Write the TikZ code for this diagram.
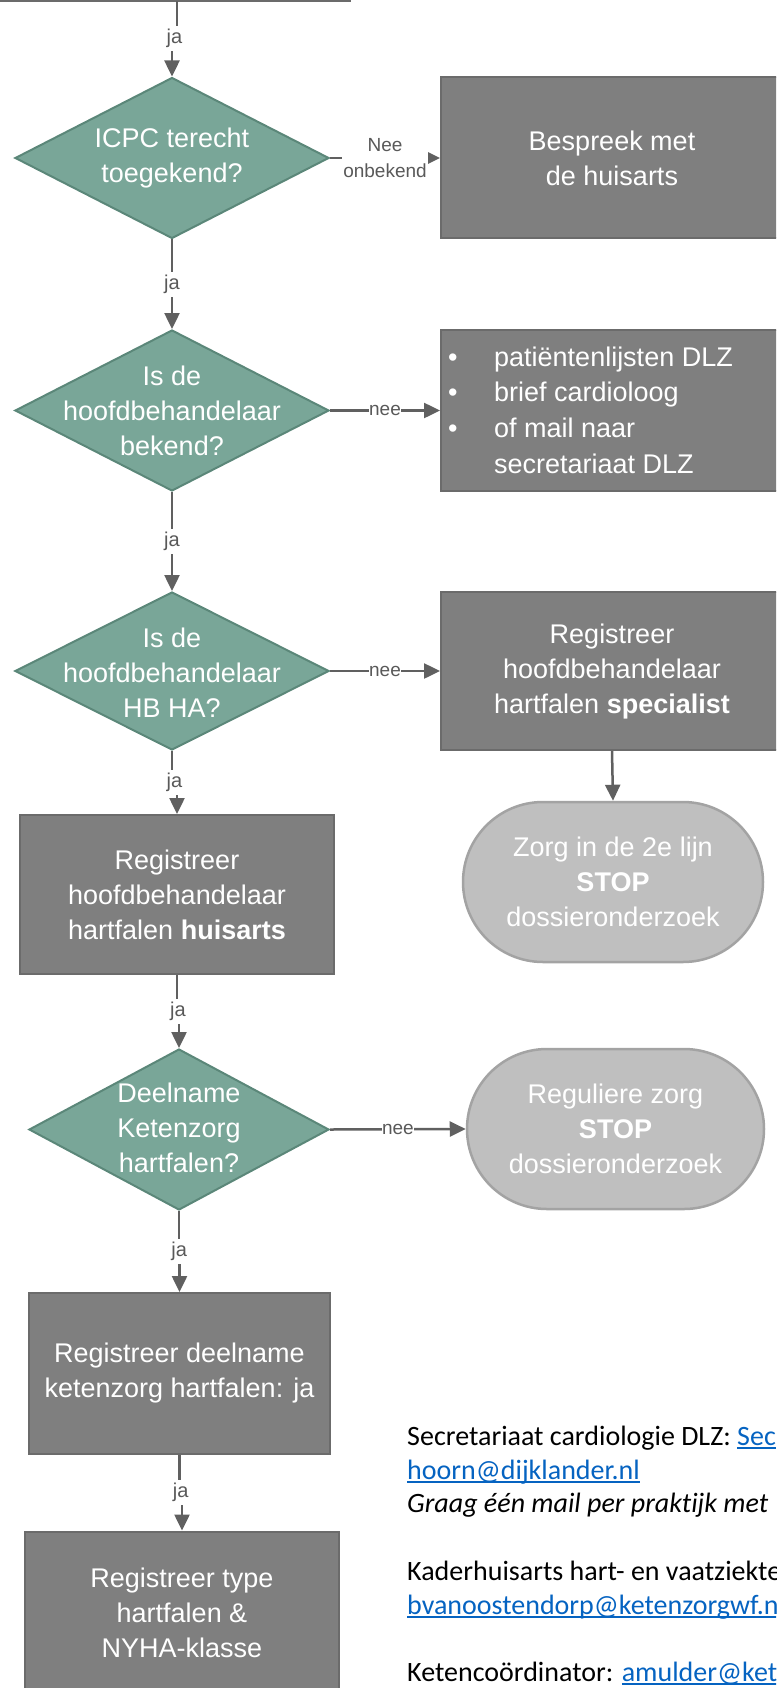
\documentclass[tikz,border=0pt]{standalone}
\usepackage{fontspec}
\setmainfont{Liberation Sans}
\newfontfamily\calibri[Ligatures={NoCommon}]{Carlito}
\usetikzlibrary{shapes.geometric,arrows.meta,calc}
\definecolor{boxfill}{HTML}{7F7F7F}
\definecolor{boxline}{HTML}{6B6B6B}
\definecolor{dfill}{HTML}{79A698}
\definecolor{dline}{HTML}{5B8779}
\definecolor{tfill}{HTML}{BFBFBF}
\definecolor{tline}{HTML}{A3A3A3}
\definecolor{conn}{HTML}{606060}
\definecolor{lbl}{HTML}{595959}
\definecolor{linkblue}{HTML}{0563C1}
\newsavebox\lnkbox
\newcommand\lnk[1]{\textcolor{linkblue}{\sbox\lnkbox{#1}\rlap{\rule[-3.5pt]{\wd\lnkbox}{1.4pt}}\usebox\lnkbox}}
\tikzset{
 dec/.style={diamond, draw=dline, fill=dfill, line width=2pt, inner sep=0pt, minimum width=314pt, minimum height=161pt},
 pbox/.style={rectangle, draw=boxline, fill=boxfill, line width=2pt, minimum width=314pt, minimum height=161pt},
 term/.style={rectangle, rounded corners=80pt, draw=tline, fill=tfill, line width=2.5pt, minimum width=300pt, minimum height=160pt},
 wtxt/.style={text=white, align=center, inner sep=0pt, font=\fontsize{27}{35}\selectfont},
 arr/.style={draw=conn, line width=2.5pt, -{Triangle[length=16pt,width=15pt]}},
 lab/.style={fill=white, text=lbl, inner sep=1.5pt, font=\fontsize{19}{26}\selectfont, align=center},
 jalab/.style={fill=white, text=lbl, inner sep=3pt, font=\fontsize{20}{24}\selectfont},
 foot/.style={anchor=base west, inner sep=0pt, font=\calibri\fontsize{28}{33.5}\selectfont},
}
\begin{document}
\begin{tikzpicture}[x=1pt,y=-1pt]
\useasboundingbox (0,0) rectangle (776,1688);
\clip (0,0) rectangle (776,1688);
% previous box (only bottom edge visible)
\node[pbox, minimum width=370pt, minimum height=60pt] (prev) at (165,-29) {};
\coordinate (c0) at (177,1);
% decisions
\node[dec] (D1) at (172,158) {};
\node[dec] (D2) at (172,410.5) {};
\node[dec, minimum height=158pt] (D3) at (172,671) {};
\node[dec, minimum width=300pt] (D4) at (179,1129.5) {};
\node[wtxt] (D1t) at (172,158) {ICPC terecht\\toegekend?};
\node[wtxt] (D2t) at (172,411) {Is de\\hoofdbehandelaar\\bekend?};
\node[wtxt] (D3t) at (172,673) {Is de\\hoofdbehandelaar\\HB HA?};
\node[wtxt] (D4t) at (179,1128) {Deelname\\Ketenzorg\\hartfalen?};
% right boxes
\node[pbox, minimum width=342pt] (B1) at (612,158) {};
\node[wtxt] (B1t) at (612,158) {Bespreek met\\de huisarts};
\node[pbox, minimum width=342pt] (B2) at (612,410.5) {};
\node[wtxt, align=left, anchor=west, font=\fontsize{27}{35.7}\selectfont] (B2t) at (448,410) {\makebox[46pt][l]{•}patiëntenlijsten DLZ\\\makebox[46pt][l]{•}brief cardioloog\\\makebox[46pt][l]{•}of mail naar\\\hspace*{46pt}secretariaat DLZ};
\node[pbox, minimum width=342pt, minimum height=158pt] (B3) at (612,671) {};
\node[wtxt] (B3t) at (612,672) {Registreer\\hoofdbehandelaar\\hartfalen \textbf{specialist}};
% terminals
\node[term] (T1) at (613,882) {};
\node[wtxt] (T1t) at (613,882) {Zorg in de 2e lijn\\\textbf{STOP}\\dossieronderzoek};
\node[term, minimum width=297pt] (T2) at (615.5,1129) {};
\node[wtxt] (T2t) at (615.5,1129) {Reguliere zorg\\\textbf{STOP}\\dossieronderzoek};
% left boxes
\node[pbox, minimum height=159pt] (B4) at (177,894.5) {};
\node[wtxt] (B4t) at (177,895) {Registreer\\hoofdbehandelaar\\hartfalen \textbf{huisarts}};
\node[pbox, minimum width=301pt] (B5) at (179.5,1373.5) {};
\node[wtxt] (B5t) at (179.5,1373.5) {Registreer deelname\\ketenzorg hartfalen: ja};
\node[pbox] (B6) at (182,1612) {};
\node[wtxt] (B6t) at (182,1613) {Registreer type\\hartfalen \&\\NYHA-klasse};
% connectors (vertical ones jog behind their label)
\coordinate (m0) at ($(c0)!0.5!(D1.north)$);
\draw[arr] (c0) -- (c0 |- m0) -- (D1.north |- m0) -- (D1.north);
\node[jalab] (j0) at (m0) {ja};
\draw[arr] (D1.east) -- (B1.west) node[midway,lab] {Nee\\onbekend};
\draw[arr] (D1.south) -- (D2.north) node[midway,jalab] {ja};
\draw[arr] (D2.east) -- (B2.west) node[midway,lab,inner sep=0.5pt] {nee};
\draw[arr] (D2.south) -- (D3.north) node[midway,jalab] {ja};
\draw[arr] (D3.east) -- (B3.west) node[midway,lab,inner sep=0.5pt] {nee};
\draw[arr] (B3.south) -- (T1.north);
\coordinate (m3) at ($(D3.south)!0.5!(B4.north)$);
\draw[arr] (D3.south) -- (D3.south |- m3) -- (B4.north |- m3) -- (B4.north);
\node[jalab] (j3) at (m3) {ja};
\coordinate (m4) at ($(B4.south)!0.5!(D4.north)$);
\draw[arr] (B4.south) -- (B4.south |- m4) -- (D4.north |- m4) -- (D4.north);
\node[jalab] (j4) at (m4) {ja};
\draw[arr] (D4.east) -- (T2.west) node[midway,lab,inner sep=0.5pt] {nee};
\coordinate (m5) at ($(D4.south)!0.5!(B5.north)$);
\draw[arr] (D4.south) -- (D4.south |- m5) -- (B5.north |- m5) -- (B5.north);
\node[jalab] (j5) at (m5) {ja};
\coordinate (m6) at ($(B5.south)!0.5!(B6.north)$);
\draw[arr] (B5.south) -- (B5.south |- m6) -- (B6.north |- m6) -- (B6.north);
\node[jalab] (j6) at (m6) {ja};
% footer text
\node[foot] (f1) at (407,1445) {Secretariaat cardiologie DLZ: \lnk{Sec}};
\node[foot] (f2) at (407,1479) {\lnk{hoorn@dijklander.nl}};
\node[foot] (f3) at (407,1512) {\itshape Graag één mail per praktijk met};
\node[foot] (f4) at (407,1580) {Kaderhuisarts hart- en vaatziekte};
\node[foot] (f5) at (407,1614) {\lnk{bvanoostendorp@ketenzorgwf.n}};
\node[foot] (f6) at (407,1681) {Ketencoördinator: \lnk{amulder@ket}};
\end{tikzpicture}
\end{document}
